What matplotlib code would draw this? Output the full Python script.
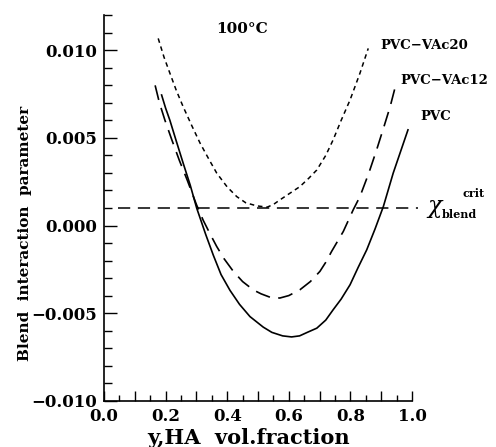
import numpy as np
import matplotlib
matplotlib.use('Agg')
import matplotlib.pyplot as plt
from matplotlib.ticker import MultipleLocator, FuncFormatter

plt.rcParams['mathtext.fontset'] = 'dejavuserif'

# values
x_pvc = [0.187, 0.200, 0.214, 0.235, 0.257, 0.280, 0.301, 0.330, 0.355,
         0.380, 0.409, 0.440, 0.474, 0.517, 0.545, 0.580, 0.609, 0.635,
         0.660, 0.691, 0.720, 0.744, 0.770, 0.799, 0.825, 0.853, 0.880,
         0.907, 0.939, 0.987]
y_pvc = [0.00745, 0.0067, 0.0060, 0.0048, 0.00356, 0.0023, 0.00099,
         -0.0005, -0.0017, -0.0028, -0.0037, -0.0045, -0.0052, -0.0058,
         -0.0061, -0.0063, -0.00636, -0.0063, -0.0061, -0.00586, -0.0054,
         -0.00481, -0.0042, -0.00338, -0.0024, -0.00139, -0.0002, 0.00108,
         0.00299, 0.00546]

x_vac12 = [0.166, 0.180, 0.198, 0.220, 0.245, 0.270, 0.300, 0.322, 0.345,
           0.366, 0.390, 0.420, 0.450, 0.485, 0.510, 0.540, 0.571, 0.600,
           0.636, 0.670, 0.701, 0.720, 0.739, 0.777, 0.809, 0.831, 0.860,
           0.885, 0.910, 0.929, 0.947]
y_vac12 = [0.0080, 0.0070, 0.0060, 0.0049, 0.0037, 0.0026, 0.0012, 0.0003,
           -0.0005, -0.0012, -0.0019, -0.00262, -0.0032, -0.00368, -0.0039,
           -0.0041, -0.00414, -0.0040, -0.00367, -0.0032, -0.00262, -0.0021,
           -0.00148, -0.00034, 0.00089, 0.00165, 0.0030, 0.00431, 0.0057,
           0.00678, 0.0080]

x_vac20 = [0.176, 0.195, 0.214, 0.235, 0.257, 0.285, 0.312, 0.340, 0.366,
           0.400, 0.431, 0.460, 0.496, 0.530, 0.550, 0.571, 0.600, 0.636,
           0.665, 0.691, 0.720, 0.744, 0.770, 0.799, 0.831, 0.858]
y_vac20 = [0.01068, 0.0096, 0.00869, 0.0077, 0.00678, 0.0057, 0.0047,
           0.0038, 0.00299, 0.0022, 0.00165, 0.0013, 0.00112, 0.00105,
           0.0012, 0.00146, 0.0018, 0.00222, 0.0027, 0.00317, 0.0040,
           0.00489, 0.0060, 0.00717, 0.00869, 0.01011]

chi_crit = 0.001
x_crit = [0.045, 1.02]

font = {'family': 'DejaVu Serif', 'weight': 'bold'}

fig = plt.figure(figsize=(4.96, 4.47), dpi=100)
ax = fig.add_axes([0.2097, 0.1036, 0.6209, 0.8622])

ax.plot(x_pvc, y_pvc, 'k-', lw=1.2)
ax.plot(x_vac12, y_vac12, 'k', lw=1.2, dashes=(9, 5))
ax.plot(x_vac20, y_vac20, 'k', lw=1.1, dashes=(3, 2.5))
ax.plot(x_crit, [chi_crit, chi_crit], 'k', lw=1.1, dashes=(8, 5), clip_on=False)

ax.set_xlim(0, 1.0)
ax.set_ylim(-0.010, 0.012)

for s in ['top', 'right']:
    ax.spines[s].set_visible(False)
for s in ['left', 'bottom']:
    ax.spines[s].set_linewidth(1.2)

ax.xaxis.set_major_locator(MultipleLocator(0.1))
ax.xaxis.set_minor_locator(MultipleLocator(0.05))
ax.yaxis.set_major_locator(MultipleLocator(0.005))
ax.yaxis.set_minor_locator(MultipleLocator(0.001))

def xfmt(v, pos):
    if int(round(v * 10)) % 2 == 0:
        return '%.1f' % v
    return ''

def yfmt(v, pos):
    if v > 0.0121:
        return ''
    return ('%.3f' % v).replace('-', '\u2212')

ax.xaxis.set_major_formatter(FuncFormatter(xfmt))
ax.yaxis.set_major_formatter(FuncFormatter(yfmt))

ax.tick_params(axis='both', which='both', direction='in', width=1.0)
ax.tick_params(axis='x', which='major', length=7, pad=5)
ax.tick_params(axis='x', which='minor', length=4)
ax.tick_params(axis='y', which='major', length=9, pad=5)
ax.tick_params(axis='y', which='minor', length=6)

for lab in ax.get_xticklabels() + ax.get_yticklabels():
    lab.set_fontfamily('DejaVu Serif')
    lab.set_fontweight('bold')
    lab.set_fontsize(12)

ax.set_xlabel('y,HA  vol.fraction', fontdict=font, fontsize=15, labelpad=0)
ax.set_ylabel('Blend  interaction  parameter', fontdict=font, fontsize=11)
ax.yaxis.set_label_coords(-0.235, 0.435)
ax.xaxis.set_label_coords(0.47, -0.07)

ax.text(0.448, 0.0112, '100\u00b0C', fontdict=font, fontsize=11, ha='center', va='center')
ax.text(0.896, 0.0103, 'PVC\u2212VAc20', fontdict=font, fontsize=9.5, va='center', clip_on=False)
ax.text(0.961, 0.0083, 'PVC\u2212VAc12', fontdict=font, fontsize=9.5, va='center', clip_on=False)
ax.text(1.026, 0.0062, 'PVC', fontdict=font, fontsize=9.5, va='center', clip_on=False)
ax.text(1.045, 0.0010, r'$\chi$', fontsize=17, va='center', clip_on=False)
ax.text(1.095, 0.0006, 'blend', fontdict=font, fontsize=8, va='center', clip_on=False)
ax.text(1.165, 0.0018, 'crit', fontdict=font, fontsize=8, va='center', clip_on=False)

plt.savefig('out.png', dpi=100)
